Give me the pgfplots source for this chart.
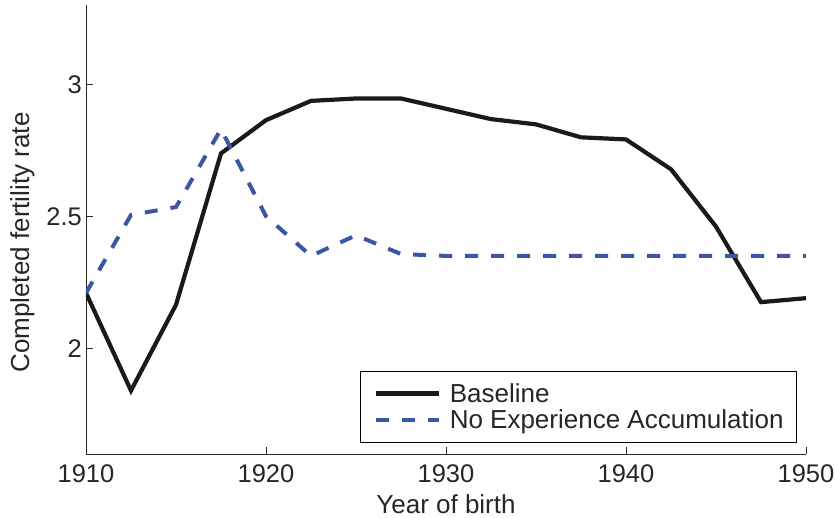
\documentclass[border=0pt]{standalone}
\usepackage{pgfplots}
\pgfplotsset{compat=1.18}
\usepackage{fontspec}
\setmainfont{Liberation Sans}
\definecolor{myblue}{HTML}{3C56A6}
\definecolor{myblack}{HTML}{1A1A1A}
\begin{document}
\begin{tikzpicture}
\begin{axis}[
  name=ax,
  width=720pt, height=449pt, scale only axis,
  xmin=1910, xmax=1950, ymin=1.6, ymax=3.3,
  axis x line*=bottom, axis y line*=left,
  axis line style={line width=0.8pt, black!85},
  tick align=inside, major tick length=7pt,
  tick style={line width=0.8pt, black!85},
  xtick={1910,1920,1930,1940,1950}, ytick={2,2.5,3},
  /pgf/number format/assume math mode=true,
  xticklabel style={/pgf/number format/1000 sep={}, inner sep=0pt, yshift=-10pt, font=\fontsize{25.5}{30}\selectfont, text=black!85},
  yticklabel style={inner sep=0pt, xshift=-4pt, font=\fontsize{25.5}{30}\selectfont, text=black!85},
  xlabel={Year of birth},
  ylabel={Completed fertility rate},
  xlabel style={at={(axis description cs:0.5,0)}, anchor=base, yshift=-59pt, inner sep=0pt, font=\fontsize{26}{30}\selectfont, text=black!85},
  ylabel style={at={(axis description cs:-0.1056,0.471)}, anchor=north, rotate=0, inner sep=0pt, font=\fontsize{26}{30}\selectfont, text=black!85},
  legend style={at={(axis description cs:1,0)}, anchor=south east, xshift=-9pt, yshift=11pt,
    draw=black, line width=0.8pt, font=\fontsize{26}{30}\selectfont, text=black!85,
    inner xsep=13pt, inner ysep=12.5pt, row sep=6pt, column sep=9pt, nodes={inner sep=0pt}},
  legend cell align=left,
  legend image code/.code={\draw[#1] (0pt,0pt) -- (63pt,0pt);},
]
\addplot[myblack, line width=4.2pt] coordinates {
(1910,2.21) (1912.5,1.84) (1915,2.165) (1917.5,2.738) (1920,2.864) (1922.5,2.937)
(1925,2.946) (1927.5,2.946) (1930,2.907) (1932.5,2.868) (1935,2.848) (1937.5,2.799)
(1940,2.791) (1942.5,2.678) (1945,2.461) (1947.5,2.175) (1950,2.19)};
\addlegendentry{Baseline}
\addplot[myblue, line width=4pt, dash pattern=on 13pt off 13pt] coordinates {
(1910,2.21) (1912.5,2.505) (1915,2.535) (1917.5,2.83) (1920,2.50) (1922.5,2.350)
(1925,2.428) (1927.5,2.357) (1930,2.35) (1932.5,2.35) (1935,2.35) (1937.5,2.35)
(1940,2.35) (1942.5,2.35) (1945,2.35) (1947.5,2.35) (1950,2.35)};
\addlegendentry{No Experience Accumulation}
\end{axis}
\pgfresetboundingbox
\path[use as bounding box] ([xshift=-86pt,yshift=-63pt]ax.south west) rectangle ([xshift=29pt,yshift=5pt]ax.north east);
\end{tikzpicture}
\end{document}
